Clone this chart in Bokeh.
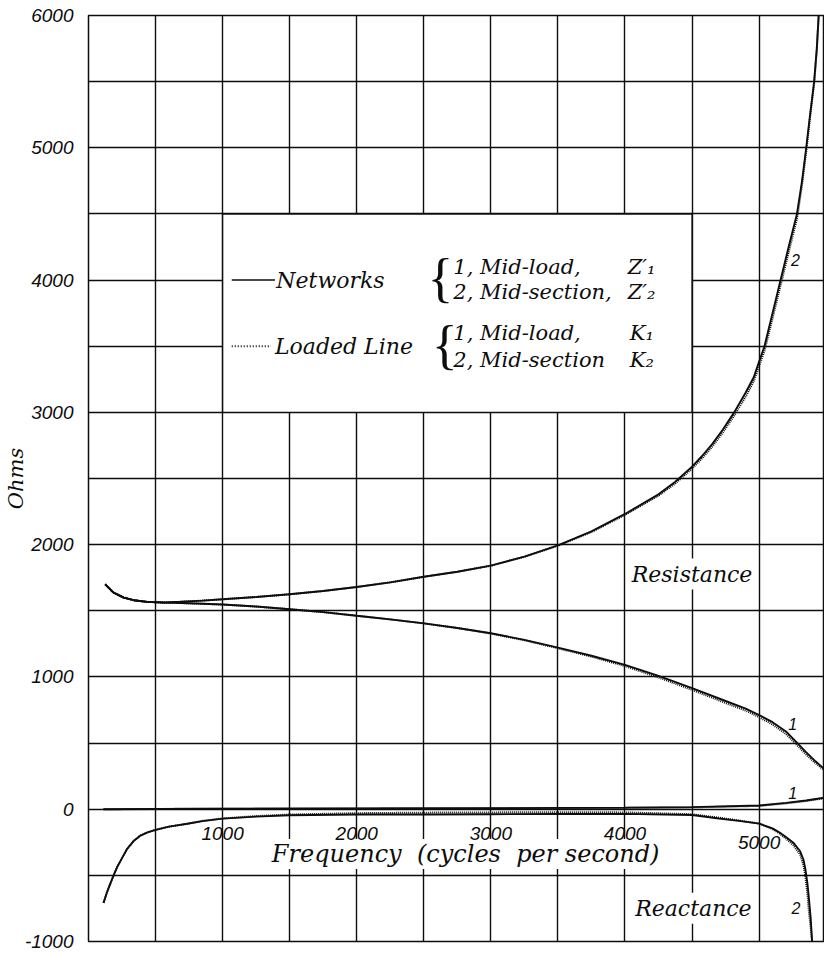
from bokeh.plotting import figure
from bokeh.models import FixedTicker, Range1d
from bokeh.core.properties import value
from bokeh.embed import file_html
from bokeh.resources import INLINE

# ---------------- data ----------------
# Resistance, curve 2 (mid-section)  Z'2 (networks) / K2 (loaded line)
freq_r2 = [125, 187, 262, 337, 437, 562, 687, 850, 1000, 1250, 1500, 1750, 2000, 2250,
           2500, 2750, 3000, 3250, 3500, 3750, 4000, 4250, 4375, 4500, 4575, 4650, 4730,
           4814, 4900, 4960, 5000, 5040, 5100, 5160, 5220, 5282, 5320, 5351, 5380, 5410,
           5430, 5444]
res2_network = [1700, 1637, 1600, 1580, 1567, 1563, 1568, 1577, 1587, 1604, 1625, 1650, 1680, 1715,
                1757, 1795, 1841, 1910, 1995, 2100, 2232, 2380, 2475, 2590, 2670, 2760, 2870,
                3000, 3150, 3265, 3384, 3500, 3750, 4000, 4250, 4500, 4750, 5000, 5250, 5500,
                5750, 6000]
res2_line = [1700, 1637, 1600, 1580, 1567, 1563, 1568, 1577, 1587, 1604, 1625, 1650, 1680, 1715,
             1757, 1795, 1841, 1908, 1992, 2095, 2225, 2370, 2462, 2575, 2652, 2740, 2848,
             2975, 3120, 3235, 3350, 3465, 3710, 3960, 4210, 4460, 4720, 4970, 5230, 5480,
             5740, 6000]

# Resistance, curve 1 (mid-load)  Z'1 / K1
freq_r1 = [125, 187, 262, 337, 437, 562, 687, 850, 1000, 1250, 1500, 1750, 2000, 2250,
           2500, 2750, 3000, 3250, 3500, 3750, 4000, 4250, 4500, 4750, 4900, 5000, 5100,
           5200, 5280, 5350, 5420, 5490]
res1_network = [1700, 1637, 1600, 1580, 1567, 1562, 1559, 1553, 1547, 1532, 1512, 1490, 1462, 1435,
                1405, 1370, 1330, 1280, 1221, 1160, 1091, 1008, 916, 818, 760, 712, 658,
                588, 505, 432, 362, 300]
res1_line = [1700, 1637, 1600, 1580, 1567, 1562, 1559, 1553, 1547, 1532, 1512, 1490, 1462, 1435,
             1405, 1370, 1328, 1277, 1217, 1153, 1082, 996, 902, 803, 745, 696, 640,
             569, 487, 414, 347, 290]

# Reactance, curve 2 (mid-section)
freq_x2 = [112, 137, 162, 187, 212, 250, 287, 337, 387, 440, 500, 600, 737, 850, 1000,
           1250, 1500, 2000, 2500, 3000, 3500, 4000, 4500, 4700, 4850, 5000, 5100,
           5150, 5200, 5255, 5306, 5330, 5344, 5360, 5370, 5385, 5395]
react2_network = [-708, -630, -565, -500, -441, -370, -301, -240, -199, -175, -156, -132, -110, -90, -71,
                  -56, -46, -40, -40, -38, -36, -35, -44, -70, -88, -109, -145,
                  -174, -210, -253, -318, -380, -448, -560, -660, -830, -1000]
react2_line = [-708, -630, -565, -500, -441, -370, -301, -240, -199, -175, -156, -132, -110, -88, -70,
               -52, -40, -30, -26, -24, -23, -24, -38, -64, -85, -108, -150,
               -182, -222, -272, -345, -420, -500, -640, -760, -900, -1000]

# Reactance, curve 1 (mid-load)
freq_x1 = [112, 500, 1000, 2000, 3000, 4000, 4500, 5000, 5200, 5350, 5490]
react1_network = [0, 2, 4, 6, 8, 12, 16, 28, 48, 66, 88]
react1_line = [0, 2, 4, 6, 8, 10, 14, 25, 44, 62, 84]

# axes
y_ticks = [-1000, 0, 1000, 2000, 3000, 4000, 5000, 6000]
y_tick_labels = ["-1000", "0", "1000", "2000", "3000", "4000", "5000", "6000"]
x_ticks = [1000, 2000, 3000, 4000, 5000]
x_tick_labels = ["1000", "2000", "3000", "4000", "5000"]
x_grid = [0, 500, 1000, 1500, 2000, 2500, 3000, 3500, 4000, 4500, 5000, 5500]
y_grid = [-1000, -500, 0, 500, 1000, 1500, 2000, 2500, 3000, 3500, 4000, 4500, 5000, 5500, 6000]

# ---------------- figure ----------------
INK = "#0d0d0d"
SCRIPT = value("DejaVu Serif")
NUMS = value("Liberation Sans")

p = figure(width=824, height=953, x_range=Range1d(0, 5480), y_range=Range1d(-1000, 6000),
           output_backend="svg", toolbar_location=None,
           min_border_left=88, min_border_right=1, min_border_top=15, min_border_bottom=12)
p.background_fill_color = "white"
p.border_fill_color = "white"
p.outline_line_color = INK
p.outline_line_width = 1.5

p.xaxis.visible = False
yax = p.yaxis[0]
yax.ticker = FixedTicker(ticks=y_ticks)
yax.major_label_overrides = {t: l for t, l in zip(y_ticks, y_tick_labels)}
yax.axis_line_color = None
yax.major_tick_line_color = None
yax.minor_tick_line_color = None
yax.major_label_text_font = "Liberation Sans"
yax.major_label_text_font_style = "italic"
yax.major_label_text_font_size = "19px"
yax.major_label_text_color = INK
yax.major_label_standoff = 9
yax.axis_label = "Ohms"
yax.axis_label_text_font = "DejaVu Serif"
yax.axis_label_text_font_style = "italic"
yax.axis_label_text_font_size = "21px"
yax.axis_label_text_color = INK
yax.axis_label_standoff = -6

p.xgrid.ticker = FixedTicker(ticks=x_grid)
p.ygrid.ticker = FixedTicker(ticks=y_grid)
for g in (p.xgrid, p.ygrid):
    g.grid_line_color = INK
    g.grid_line_width = 1.4
    g.grid_line_alpha = 1.0

# legend box (white panel bounded by grid lines)
p.quad(left=[1000], right=[4500], bottom=[3000], top=[4500],
       fill_color="white", line_color=INK, line_width=1.4)

# curves
for fx, net, ln in ((freq_r2, res2_network, res2_line),
                    (freq_r1, res1_network, res1_line),
                    (freq_x2, react2_network, react2_line),
                    (freq_x1, react1_network, react1_line)):
    p.line(fx, ln, line_color=INK, line_width=2.0, line_dash="1 1")
    p.line(fx, net, line_color=INK, line_width=1.9)

# legend content
p.line([1068, 1390], [4000, 4000], line_color=INK, line_width=1.6)
p.line([1068, 1360], [3500, 3500], line_color=INK, line_width=2, line_dash="1 2")
p.text(x=[1400, 1390], y=[4000, 3500], text=["Networks", "Loaded Line"],
       text_font=SCRIPT, text_font_style="italic", text_font_size="22px",
       text_align="left", text_baseline="middle", text_color=INK)
p.text(x=[2625, 2655], y=[4012, 3512], text=["{", "{"],
       text_font=value("Liberation Serif"), text_font_size="54px",
       text_align="center", text_baseline="middle", text_color=INK)
p.text(x=[2720, 2720, 2720, 2720], y=[4097, 3913, 3602, 3398],
       text=["1, Mid-load,", "2, Mid-section,", "1, Mid-load,", "2, Mid-section"],
       text_font=SCRIPT, text_font_style="italic", text_font_size="21px",
       text_align="left", text_baseline="middle", text_color=INK)
p.text(x=[4020, 4020, 4035, 4035], y=[4097, 3913, 3602, 3398],
       text=["Z\u2032\u2081", "Z\u2032\u2082", "K\u2081", "K\u2082"],
       text_font=SCRIPT, text_font_style="italic", text_font_size="21px",
       text_align="left", text_baseline="middle", text_color=INK)

# region labels
p.text(x=[4500, 4510], y=[1778, -749], text=["Resistance", "Reactance"],
       text_font=SCRIPT, text_font_style="italic", text_font_size="22px",
       text_align="center", text_baseline="middle", text_color=INK,
       background_fill_color="white", padding=3)

# curve numbers
p.text(x=[5270, 5250, 5250, 5275], y=[4152, 645, 120, -744], text=["2", "1", "1", "2"],
       text_font=NUMS, text_font_style="italic", text_font_size="16px",
       text_align="center", text_baseline="middle", text_color=INK)

# frequency axis title and tick labels (inside the plot, below the zero line)
p.text(x=[2812], y=[-338], text=["Frequency\u00a0\u00a0(cycles\u00a0\u00a0per second)"],
       text_font=SCRIPT, text_font_style="italic", text_font_size="24px",
       text_align="center", text_baseline="middle", text_color=INK,
       background_fill_color="white", padding=1)
label_y = [-180 if v < 5000 else -250 for v in x_ticks]
p.text(x=x_ticks, y=label_y, text=x_tick_labels,
       text_font=NUMS, text_font_style="italic", text_font_size="19px",
       text_align="center", text_baseline="middle", text_color=INK)

open("out.html", "w").write(file_html(p, INLINE))
